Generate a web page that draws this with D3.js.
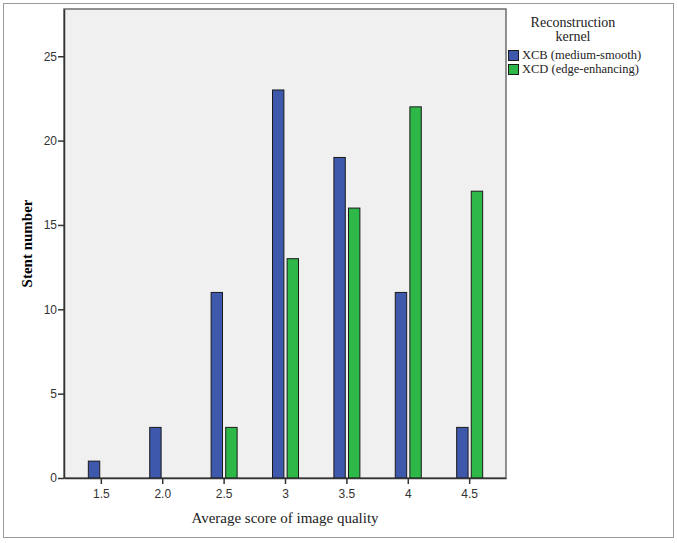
<!DOCTYPE html>
<html>
<head>
<meta charset="utf-8">
<script src="https://cdn.jsdelivr.net/npm/d3@7"></script>
<style>
  body { margin: 0; background: #fff; }
  svg { display: block; }
</style>
</head>
<body>
<svg id="chart" width="677" height="543"></svg>
<script>
// values
var categories = ["1.5", "2.0", "2.5", "3", "3.5", "4", "4.5"];
var xcbValues = [1, 3, 11, 23, 19, 11, 3];
var xcdValues = [0, 0, 3, 13, 16, 22, 17];
var seriesNames = ["XCB (medium-smooth)", "XCD (edge-enhancing)"];
var seriesColors = ["#3e58ac", "#2eb848"];
var yTicks = [0, 5, 10, 15, 20, 25];

var svg = d3.select("#chart");

var plot = { left: 64, right: 506, top: 9, bottom: 478 };

// outer frame
svg.append("rect")
	.attr("x", 3.5).attr("y", 3.5)
	.attr("width", 670).attr("height", 534)
	.attr("fill", "#fff")
	.attr("stroke", "#9a9a9a")
	.attr("stroke-width", 1);

var x = d3.scalePoint()
	.domain(categories)
	.range([plot.left, plot.right])
	.padding(0.6);

var sub = d3.scaleBand()
	.domain([0, 1])
	.range([-12.5, 13.5])
	.paddingInner(0.22);

var y = d3.scaleLinear()
	.domain([0, 27.8])
	.range([plot.bottom, plot.top]);

// plot background
svg.append("rect")
	.attr("x", plot.left).attr("y", plot.top)
	.attr("width", plot.right - plot.left)
	.attr("height", plot.bottom - plot.top)
	.attr("fill", "#f0f0f0")
	.attr("stroke", "#6e6e6e")
	.attr("stroke-width", 1.5);

var rows = categories.map(function(c, i)
{
	return { cat: c, values: [xcbValues[i], xcdValues[i]] };
});

var bars = [];
rows.forEach(function(r)
{
	r.values.forEach(function(v, s)
	{
		if (v > 0) bars.push({ cat: r.cat, s: s, v: v });
	});
});

svg.append("g")
	.selectAll("rect")
	.data(bars)
	.enter().append("rect")
	.attr("x", function(d) { return x(d.cat) + sub(d.s); })
	.attr("y", function(d) { return y(d.v); })
	.attr("width", sub.bandwidth())
	.attr("height", function(d) { return y(0) - y(d.v); })
	.attr("fill", function(d) { return seriesColors[d.s]; })
	.attr("stroke", "#1a1a1a")
	.attr("stroke-width", 1);

// axes
var yAxis = svg.append("g")
	.attr("transform", "translate(" + plot.left + ",0)")
	.call(d3.axisLeft(y).tickValues(yTicks).tickSize(6).tickSizeOuter(0).tickPadding(1));

var xAxis = svg.append("g")
	.attr("transform", "translate(0," + plot.bottom + ")")
	.call(d3.axisBottom(x).tickSize(6).tickSizeOuter(0).tickPadding(5));

[yAxis, xAxis].forEach(function(a)
{
	a.select(".domain").attr("stroke", "#333").attr("stroke-width", 1.5);
	a.selectAll(".tick line").attr("stroke", "#333").attr("stroke-width", 1.5);
	a.selectAll(".tick text")
		.attr("fill", "#333")
		.style("font-family", "'Liberation Sans', Arial, sans-serif")
		.style("font-size", "12px");
});

// axis titles
svg.append("text")
	.attr("transform", "translate(32," + ((plot.top + plot.bottom) / 2) + ") rotate(-90)")
	.attr("text-anchor", "middle")
	.style("font-family", "'Liberation Serif', 'Times New Roman', serif")
	.style("font-weight", "bold")
	.style("font-size", "15px")
	.text("Stent number");

svg.append("text")
	.attr("x", (plot.left + plot.right) / 2)
	.attr("y", 523)
	.attr("text-anchor", "middle")
	.style("font-family", "'Liberation Serif', 'Times New Roman', serif")
	.style("font-size", "15px")
	.attr("fill", "#222")
	.text("Average score of image quality");

// legend
var legend = svg.append("g");

legend.selectAll("text.title")
	.data(["Reconstruction", "kernel"])
	.enter().append("text")
	.attr("class", "title")
	.attr("x", 573)
	.attr("y", function(d, i) { return 27 + i * 13.5; })
	.attr("text-anchor", "middle")
	.style("font-family", "'Liberation Serif', 'Times New Roman', serif")
	.style("font-size", "14px")
	.attr("fill", "#222")
	.text(function(d) { return d; });

var item = legend.selectAll("g.item")
	.data(seriesNames)
	.enter().append("g")
	.attr("class", "item")
	.attr("transform", function(d, i) { return "translate(508.5," + (50.5 + i * 14) + ")"; });

item.append("rect")
	.attr("width", 10).attr("height", 10)
	.attr("fill", function(d, i) { return seriesColors[i]; })
	.attr("stroke", "#1a1a1a")
	.attr("stroke-width", 1);

item.append("text")
	.attr("x", 13.5)
	.attr("y", 8.5)
	.style("font-family", "'Liberation Serif', 'Times New Roman', serif")
	.style("font-size", "12.5px")
	.attr("fill", "#222")
	.text(function(d) { return d; });
</script>
</body>
</html>
